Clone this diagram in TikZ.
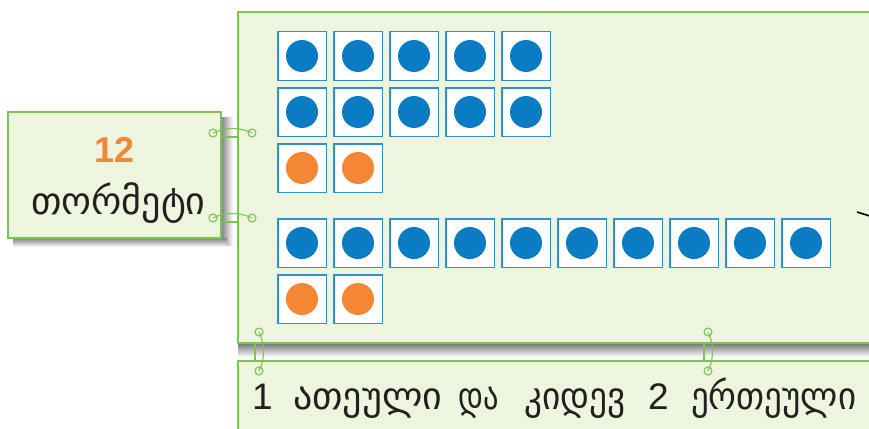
\documentclass[tikz,border=0pt]{standalone}
\usepackage{fontspec}
\usepackage{graphicx}
\setmainfont{Liberation Sans}
\newfontfamily\geo{DejaVu Sans}
\definecolor{pfill}{HTML}{EEF5DF}
\definecolor{pline}{HTML}{7DC352}
\definecolor{cblue}{HTML}{0A7CC3}
\definecolor{sqline}{HTML}{2F8ED0}
\definecolor{corange}{HTML}{F58634}
\definecolor{txt}{HTML}{231F20}
\tikzset{
  panel/.style={fill=pfill,draw=pline,line width=1.2pt},
  sq/.style={draw=sqline,fill=white,line width=1.5pt,minimum size=48.5pt,inner sep=0pt,outer sep=0pt},
  bdot/.style={circle,fill=cblue,minimum size=32pt,inner sep=0pt},
  odot/.style={circle,fill=corange,minimum size=32pt,inner sep=0pt},
  ringc/.style={circle,draw=pline,line width=1.1pt,minimum size=8pt,inner sep=0pt},
  ringl/.style={draw=pline,line width=1.1pt},
  geotxt/.style={font=\geo\fontsize{38}{38}\selectfont,text=txt,inner sep=0pt,anchor=base west},
  digtxt/.style={font=\fontsize{37}{37}\selectfont,text=txt,inner sep=0pt,anchor=base west}
}
\begin{document}
\begin{tikzpicture}[x=1pt,y=-1pt]
\useasboundingbox (0,0) rectangle (869,428);
\fill[white] (0,0) rectangle (869,428);
% shadows
\shade[top color=black!55,bottom color=white] (238,343) rectangle (875,357);
\shade[left color=black!50,right color=white] (221,117) rectangle (233,245);
\shade[top color=black!50,bottom color=white] (13,238) rectangle (227,247);
% panels
\draw[panel] (238,12) rectangle (880,343);
\draw[panel] (238,361) rectangle (880,440);
\draw[panel] (8,112) rectangle (221,238);
% squares
\foreach \r/\y/\n/\s in {a/56/5/bdot,b/112/5/bdot,c/168/2/odot,d/243/10/bdot,e/299/2/odot}{
  \foreach \i in {1,...,\n}{
    \node[sq] (sq\r\i) at ({302+56*(\i-1)},\y) {};
    \node[\s] (dt\r\i) at (sq\r\i.center) {};
  }
}
% left box text
\node[font=\bfseries\fontsize{36}{36}\selectfont,text=corange,inner sep=0pt,anchor=base] (twelve) at (114.5,162) {12};
\node[geotxt,anchor=base] (word) at (118.5,214) {თორმეტი};
% bottom text
\node[digtxt] (d1) at (252,409) {1};
\node[geotxt] (w1) at (293,409) {ათეული};
\node[geotxt] (w2) at (458,409) {\scalebox{0.8}[1]{და}};
\node[geotxt] (w3) at (524,409) {\scalebox{0.93}[1]{კიდევ}};
\node[digtxt] (d2) at (648,409) {2};
\node[geotxt] (w4) at (691,409) {\scalebox{0.92}[1]{ერთეული}};
% rings left
\node[ringc] (la) at (213,133) {};
\node[ringc] (lb) at (252,133) {};
\draw[ringl] (la.center) .. controls (225,127) and (240,127) .. (lb.center);
\draw[ringl] (221,137) -- (238,137);
\node[ringc] (lc) at (213,218) {};
\node[ringc] (ld) at (252,218) {};
\draw[ringl] (lc.center) .. controls (225,212) and (240,212) .. (ld.center);
\draw[ringl] (221,222) -- (238,222);
% rings bottom
\node[ringc] (ba) at (259,332) {};
\node[ringc] (bb) at (259,371) {};
\draw[ringl] (ba.center) .. controls (265,344) and (265,359) .. (bb.center);
\draw[ringl] (255,343) -- (255,361);
\node[ringc] (bc) at (708,332) {};
\node[ringc] (bd) at (708,371) {};
\draw[ringl] (bc.center) .. controls (714,344) and (714,359) .. (bd.center);
\draw[ringl] (704,343) -- (704,361);
% black line at right edge
\coordinate (ls) at (857,212);
\coordinate (le) at (873,217);
\draw[line width=1.6pt,black] (ls) -- (le);
\end{tikzpicture}
\end{document}
